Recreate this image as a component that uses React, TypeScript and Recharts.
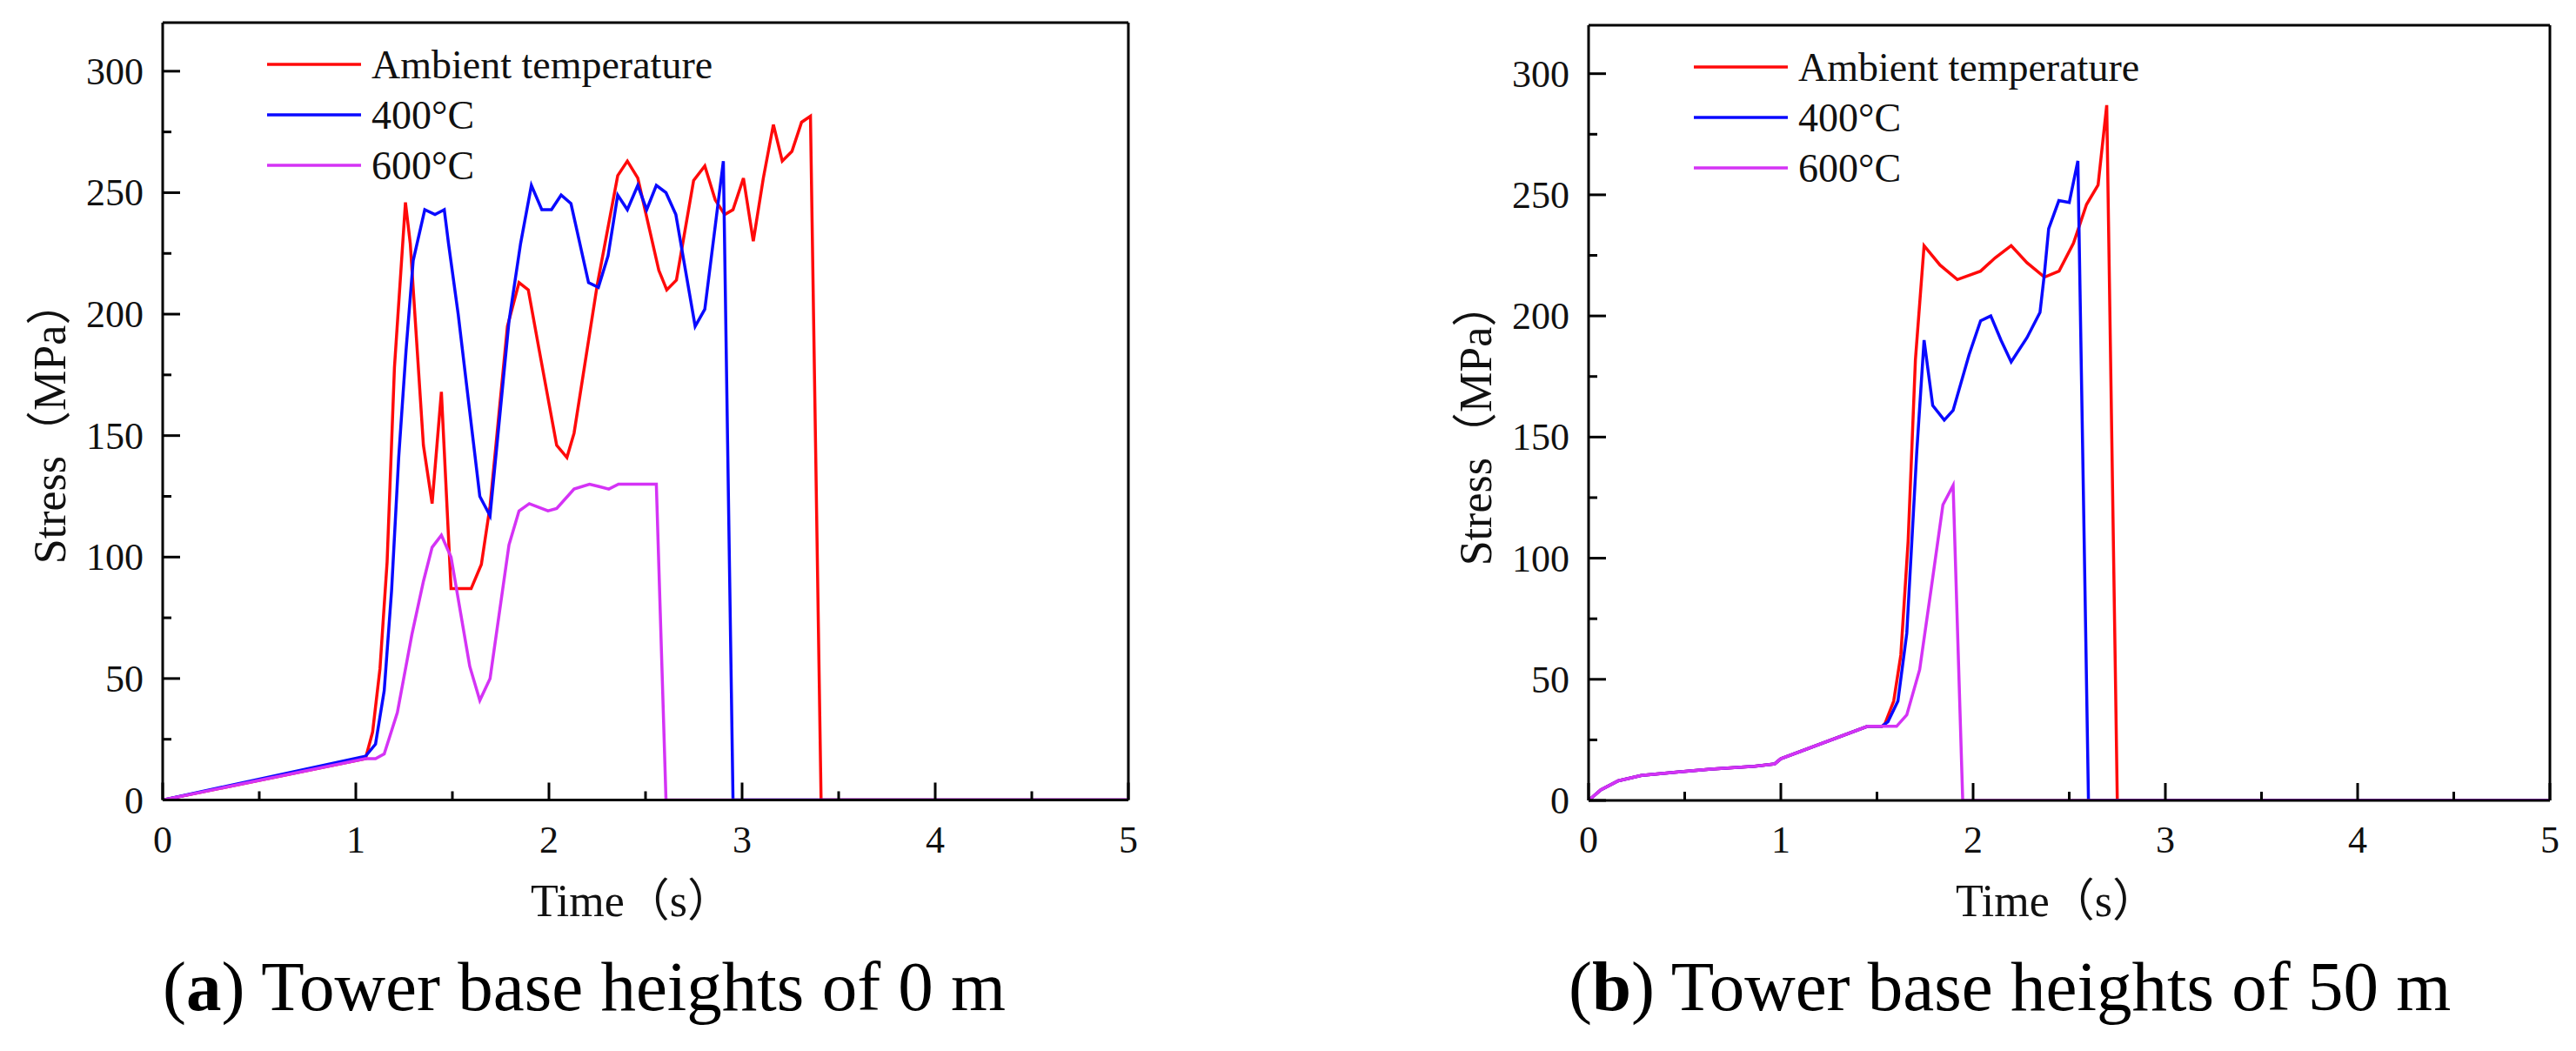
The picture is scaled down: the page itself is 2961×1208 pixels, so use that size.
import React from "react";
import { Line, LineChart, ReferenceLine, XAxis, YAxis } from "recharts";

type Pt = { t: number; s: number };
const pts = (rows: number[][]): Pt[] => rows.map(([t, s]) => ({ t, s }));

// axis ticks (minor ticks get no label)
const TIME_TICKS = [0, 0.5, 1, 1.5, 2, 2.5, 3, 3.5, 4, 4.5, 5];
const STRESS_TICKS = [0, 25, 50, 75, 100, 125, 150, 175, 200, 225, 250, 275, 300];
const TIME_DOMAIN = [0, 5];
const STRESS_DOMAIN = [0, 320];

const SERIES_NAMES = ["Ambient temperature", "400°C", "600°C"];
const SERIES_COLORS = ["#ff0a0a", "#0a0aff", "#d433f5"];

// (a) tower base height 0 m
const ambientA = pts([
  [0, 0], [1.05, 17], [1.087, 28], [1.125, 54], [1.162, 98], [1.2, 178], [1.257, 246],
  [1.282, 229], [1.35, 146], [1.395, 122], [1.443, 168], [1.493, 87], [1.597, 87],
  [1.65, 97], [1.695, 121], [1.785, 195], [1.845, 213], [1.893, 210], [1.95, 185],
  [2.04, 146], [2.093, 141], [2.13, 151], [2.25, 212], [2.356, 257], [2.406, 263],
  [2.46, 256], [2.569, 218], [2.61, 210], [2.66, 214], [2.749, 255], [2.807, 261],
  [2.861, 247], [2.91, 241], [2.953, 243], [3.007, 256], [3.058, 230], [3.11, 256],
  [3.162, 278], [3.208, 263], [3.258, 267], [3.308, 279], [3.354, 281.5], [3.409, 0], [5, 0],
]);
const c400A = pts([
  [0, 0], [1.05, 18], [1.102, 23], [1.147, 45], [1.185, 86], [1.222, 141], [1.26, 185],
  [1.297, 222], [1.357, 243], [1.41, 241], [1.458, 243], [1.48, 229], [1.53, 200],
  [1.642, 125], [1.695, 117], [1.793, 197], [1.853, 229], [1.909, 253], [1.963, 243],
  [2.013, 243], [2.063, 249], [2.114, 245.5], [2.205, 213], [2.256, 211], [2.306, 224],
  [2.356, 249], [2.406, 243], [2.46, 253], [2.506, 243], [2.556, 253], [2.606, 250],
  [2.657, 241], [2.757, 195], [2.807, 202], [2.903, 263], [2.953, 0], [5, 0],
]);
const c600A = pts([
  [0, 0], [1.05, 17], [1.102, 17], [1.147, 19], [1.215, 36], [1.29, 68], [1.35, 90],
  [1.395, 104], [1.443, 109], [1.493, 100], [1.59, 55], [1.642, 41], [1.695, 50],
  [1.793, 105], [1.845, 119], [1.898, 122], [1.995, 119], [2.04, 120], [2.13, 128],
  [2.21, 130], [2.26, 129], [2.31, 128], [2.36, 130], [2.556, 130], [2.606, 0], [5, 0],
]);

// (b) tower base height 50 m
const ambientB = pts([
  [0, 0], [0.063, 4.3], [0.154, 8.1], [0.275, 10.3], [0.456, 11.7], [0.637, 12.9],
  [0.863, 14.1], [0.968, 15.1], [1.0, 17.2], [1.451, 30.6], [1.526, 30.6], [1.541, 31.6],
  [1.587, 41], [1.624, 60], [1.662, 107], [1.7, 182], [1.745, 229], [1.828, 221],
  [1.918, 215], [2.039, 218.5], [2.115, 224], [2.198, 229], [2.28, 222], [2.371, 216],
  [2.447, 218.5], [2.522, 230], [2.59, 246], [2.65, 254], [2.695, 287], [2.75, 0], [5, 0],
]);
const c400B = pts([
  [0, 0], [0.063, 4.3], [0.154, 8.1], [0.275, 10.3], [0.456, 11.7], [0.637, 12.9],
  [0.863, 14.1], [0.968, 15.1], [1.0, 17.2], [1.451, 30.6], [1.526, 30.6], [1.557, 32.5],
  [1.609, 41], [1.655, 69], [1.707, 144], [1.745, 190], [1.79, 163], [1.85, 157],
  [1.896, 161], [1.979, 184], [2.039, 198], [2.092, 200], [2.145, 190], [2.198, 181],
  [2.28, 191], [2.348, 201.5], [2.371, 217.5], [2.393, 236], [2.446, 247.6], [2.5, 246.8],
  [2.545, 264], [2.6, 0], [5, 0],
]);
const c600B = pts([
  [0, 0], [0.063, 4.3], [0.154, 8.1], [0.275, 10.3], [0.456, 11.7], [0.637, 12.9],
  [0.863, 14.1], [0.968, 15.1], [1.0, 17.2], [1.451, 30.6], [1.602, 30.6], [1.655, 35.3],
  [1.722, 54], [1.783, 88], [1.843, 122], [1.896, 130], [1.946, 0], [5, 0],
]);

const SERIF = '"Liberation Serif", "Times New Roman", "Noto Sans CJK SC", serif';

function XTick(props: any) {
  const { x, y, payload } = props;
  const major = payload.value % 1 === 0;
  return (
    <g>
      <line x1={x} x2={x} y1={y} y2={y - (major ? 20 : 10)} stroke="#000" strokeWidth={3} />
      {major && (
        <text x={x} y={y + 60} textAnchor="middle" fontFamily={SERIF} fontSize={44} fill="#111">
          {payload.value}
        </text>
      )}
    </g>
  );
}

function YTick(props: any) {
  const { x, y, payload } = props;
  const major = payload.value % 50 === 0;
  return (
    <g>
      <line x1={x} x2={x + (major ? 20 : 10)} y1={y} y2={y} stroke="#000" strokeWidth={3} />
      {major && (
        <text x={x - 22} y={y + 15} textAnchor="end" fontFamily={SERIF} fontSize={44} fill="#111">
          {payload.value}
        </text>
      )}
    </g>
  );
}

function Panel({
  left, width, plotLeft, plotRight, plotTop, plotBottom, series,
}: {
  left: number; width: number; plotLeft: number; plotRight: number;
  plotTop: number; plotBottom: number; series: Pt[][];
}) {
  const H = 1208;
  return (
    <div style={{ position: "absolute", left, top: 0 }}>
      <LineChart
        width={width}
        height={H}
        margin={{ top: plotTop, right: width - plotRight, bottom: H - plotBottom - 40, left: plotLeft - 80 }}
      >
        <XAxis
          type="number"
          dataKey="t"
          domain={TIME_DOMAIN}
          ticks={TIME_TICKS}
          interval={0}
          height={40}
          tickSize={0}
          tickMargin={0}
          tickLine={false}
          axisLine={{ stroke: "#000", strokeWidth: 3 }}
          tick={<XTick />}
          allowDataOverflow
        />
        <YAxis
          type="number"
          domain={STRESS_DOMAIN}
          ticks={STRESS_TICKS}
          interval={0}
          width={80}
          tickSize={0}
          tickMargin={0}
          tickLine={false}
          axisLine={{ stroke: "#000", strokeWidth: 3 }}
          tick={<YTick />}
          allowDataOverflow
        />
        <ReferenceLine y={320} stroke="#000" strokeWidth={3} />
        <ReferenceLine x={5} stroke="#000" strokeWidth={3} />
        {series.map((d, i) => (
          <Line
            key={SERIES_NAMES[i]}
            data={d}
            dataKey="s"
            type="linear"
            stroke={SERIES_COLORS[i]}
            strokeWidth={3.5}
            dot={false}
            activeDot={false}
            isAnimationActive={false}
          />
        ))}
      </LineChart>
    </div>
  );
}

function Legend({ x, y }: { x: number; y: number }) {
  return (
    <g>
      {SERIES_NAMES.map((name, i) => (
        <g key={name}>
          <line x1={x} x2={x + 108} y1={y + i * 58} y2={y + i * 58} stroke={SERIES_COLORS[i]} strokeWidth={3.5} />
          <text x={x + 120} y={y + i * 58} dominantBaseline="central" fontFamily={SERIF} fontSize={46} fill="#111">
            {name}
          </text>
        </g>
      ))}
    </g>
  );
}

export default function App() {
  return (
    <div style={{ position: "absolute", left: 0, top: 0, width: 2961, height: 1208, background: "#fff", overflow: "hidden" }}>
      <Panel left={0} width={1400} plotLeft={187} plotRight={1297} plotTop={26} plotBottom={919.5} series={[ambientA, c400A, c600A]} />
      <Panel left={1400} width={1561} plotLeft={426} plotRight={1531} plotTop={29} plotBottom={920} series={[ambientB, c400B, c600B]} />
      <svg width={2961} height={1208} style={{ position: "absolute", left: 0, top: 0, pointerEvents: "none" }}>
        <Legend x={307} y={74} />
        <Legend x={1947} y={77} />
        <text x={726} y={1053} textAnchor="middle" fontFamily={SERIF} fontSize={52} fill="#111">Time（s）</text>
        <text x={2364} y={1053} textAnchor="middle" fontFamily={SERIF} fontSize={52} fill="#111">Time（s）</text>
        <text x={75} y={485} transform="rotate(-90 75 485)" textAnchor="middle" fontFamily={SERIF} fontSize={52} fill="#111">Stress（MPa）</text>
        <text x={1714} y={487} transform="rotate(-90 1714 487)" textAnchor="middle" fontFamily={SERIF} fontSize={52} fill="#111">Stress（MPa）</text>
        <text x={187} y={1161} fontFamily={SERIF} fontSize={81} fill="#000">
          (<tspan fontWeight="bold">a</tspan>) Tower base heights of 0 m
        </text>
        <text x={1803} y={1161} fontFamily={SERIF} fontSize={81} fill="#000">
          (<tspan fontWeight="bold">b</tspan>) Tower base heights of 50 m
        </text>
      </svg>
    </div>
  );
}
